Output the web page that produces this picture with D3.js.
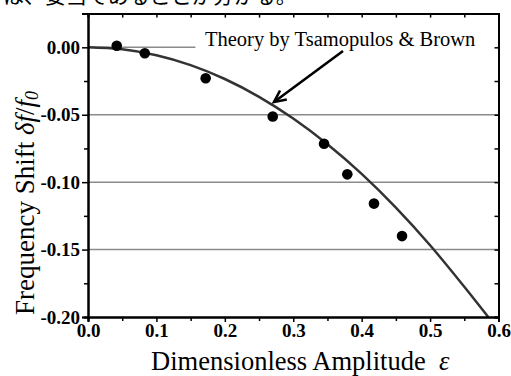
<!DOCTYPE html>
<html lang="ja">
<head>
<meta charset="utf-8">
<script src="https://d3js.org/d3.v7.min.js"></script>
<style>
  body { margin: 0; background: #fff; }
  svg { display: block; }
</style>
</head>
<body>
<div id="chart"></div>
<script>
// measured points
var epsData = [0.042, 0.083, 0.172, 0.270, 0.345, 0.379, 0.418, 0.459];
var shiftData = [0.0012, -0.0044, -0.0229, -0.0513, -0.0715, -0.0942, -0.1159, -0.1400];

// theory curve
var epsTheory = [0, 0.05, 0.10, 0.15, 0.20, 0.25, 0.30, 0.35, 0.40, 0.45, 0.50, 0.55, 0.585];
var shiftTheory = [0, -0.0015, -0.0059, -0.0132, -0.0235, -0.0367, -0.0528, -0.0719, -0.0939, -0.1189, -0.1468, -0.1776, -0.2000];

var xTicks = [0.0, 0.1, 0.2, 0.3, 0.4, 0.5, 0.6];
var xMinor = [0.05, 0.15, 0.25, 0.35, 0.45, 0.55];
var yTicks = [0.00, -0.05, -0.10, -0.15, -0.20];
var yMinor = [0.025, -0.025, -0.075, -0.125, -0.175];
var gridVals = [-0.05, -0.10, -0.15, 0.00];

var W = 511, H = 376;
var margin = { top: 13.6, right: 12.5, bottom: 59, left: 88 };
var width = W - margin.left - margin.right;
var height = H - margin.top - margin.bottom;
var serif = "Liberation Serif";

var root = d3.select("#chart").append("svg")
    .attr("width", W).attr("height", H);

// caption line from the page above, cut off by the top edge
root.append("text")
    .attr("x", 3).attr("y", 3)
    .style("font-family", "'Noto Sans CJK JP'")
    .style("font-size", "21px")
    .text("は、妥当であることが分かる。");

var svg = root.append("g")
    .attr("transform", "translate(" + margin.left + "," + margin.top + ")");

var x = d3.scaleLinear().domain([0, 0.6]).range([0, width]);
var y = d3.scaleLinear().domain([-0.2, 0.025]).range([height, 0]);

// grid lines
svg.append("g").selectAll("line")
    .data(gridVals)
    .enter().append("line")
    .attr("x1", 0).attr("x2", width)
    .attr("y1", d => y(d)).attr("y2", d => y(d))
    .attr("stroke", "#8a8a8a").attr("stroke-width", 1.5);

// theory curve
var line = d3.line()
    .x((d, i) => x(epsTheory[i]))
    .y(d => y(d))
    .curve(d3.curveMonotoneX);

svg.append("path")
    .datum(shiftTheory)
    .attr("d", line)
    .attr("fill", "none")
    .attr("stroke", "#333")
    .attr("stroke-width", 2.5);

// dots
svg.append("g").selectAll("circle")
    .data(shiftData)
    .enter().append("circle")
    .attr("cx", (d, i) => x(epsData[i]))
    .attr("cy", d => y(d))
    .attr("r", 5.3)
    .attr("fill", "#000");

// label with white box
var labelX = x(0.171), labelY = y(0.00) - 1.5;
svg.append("rect")
    .attr("x", x(0.157)).attr("y", labelY - 20)
    .attr("width", width - x(0.157) - 1).attr("height", 25)
    .attr("fill", "#fff");
svg.append("text")
    .attr("x", labelX).attr("y", labelY)
    .attr("font-family", serif)
    .attr("font-size", 20.5)
    .text("Theory by Tsamopulos & Brown");

// arrow
var ax0 = 343 - margin.left, ay0 = 51 - margin.top;
var ax1 = 274 - margin.left, ay1 = 102 - margin.top;
svg.append("line")
    .attr("x1", ax0).attr("y1", ay0).attr("x2", ax1).attr("y2", ay1)
    .attr("stroke", "#000").attr("stroke-width", 2.6);
var ang = Math.atan2(ay1 - ay0, ax1 - ax0);
var hl = 13, spread = 0.45;
svg.append("path")
    .attr("d", "M" + (ax1 - hl * Math.cos(ang - spread)) + "," + (ay1 - hl * Math.sin(ang - spread)) +
        "L" + ax1 + "," + ay1 +
        "L" + (ax1 - hl * Math.cos(ang + spread)) + "," + (ay1 - hl * Math.sin(ang + spread)))
    .attr("fill", "none").attr("stroke", "#000").attr("stroke-width", 2.6)
    .attr("stroke-linejoin", "miter");

// axes
var fmtX = d3.format(".1f");
var fmtY = d => d3.format(".2f")(d).replace("−", "-");

var xAxisG = svg.append("g")
    .attr("transform", "translate(0," + height + ")")
    .call(d3.axisBottom(x).tickValues(xTicks).tickSize(5).tickPadding(2).tickFormat(fmtX));
svg.append("g")
    .attr("transform", "translate(0," + height + ")")
    .call(d3.axisBottom(x).tickValues(xMinor).tickSize(4).tickFormat(""));

var yAxisG = svg.append("g")
    .call(d3.axisLeft(y).tickValues(yTicks).tickSize(6).tickPadding(2).tickFormat(fmtY));
svg.append("g")
    .call(d3.axisLeft(y).tickValues(yMinor).tickSize(4).tickFormat(""));

svg.append("g")
    .call(d3.axisTop(x).tickValues(xTicks.concat(xMinor)).tickSize(-4).tickFormat(""));
svg.append("g")
    .attr("transform", "translate(" + width + ",0)")
    .call(d3.axisRight(y).tickValues(yTicks.concat(yMinor)).tickSize(-4).tickFormat(""));

// tick label font set on the axis groups themselves
[xAxisG, yAxisG].forEach(function (g) {
    g.attr("font-family", serif).attr("font-size", 19).attr("font-weight", "bold");
});

svg.selectAll(".domain").attr("stroke", "#000").attr("stroke-width", 2);
svg.selectAll(".tick line").attr("stroke", "#000").attr("stroke-width", 1.5);
svg.selectAll(".tick text").attr("fill", "#000");

// axis titles
svg.append("text")
    .attr("x", width / 2 + 7).attr("y", height + 53)
    .attr("text-anchor", "middle")
    .attr("font-family", serif)
    .attr("font-size", 26.5)
    .html('Dimensionless Amplitude&#160;&#160;<tspan font-style="italic">ε</tspan>');

svg.append("text")
    .attr("transform", "translate(" + (34 - margin.left) + "," + (203 - margin.top) + ") rotate(-90)")
    .attr("text-anchor", "middle")
    .attr("font-family", serif)
    .attr("font-size", 27)
    .html('Frequency Shift <tspan font-style="italic">δf</tspan>/<tspan font-style="italic">f</tspan><tspan font-style="italic" font-size="18px" dy="4">0</tspan>');
</script>
</body>
</html>
